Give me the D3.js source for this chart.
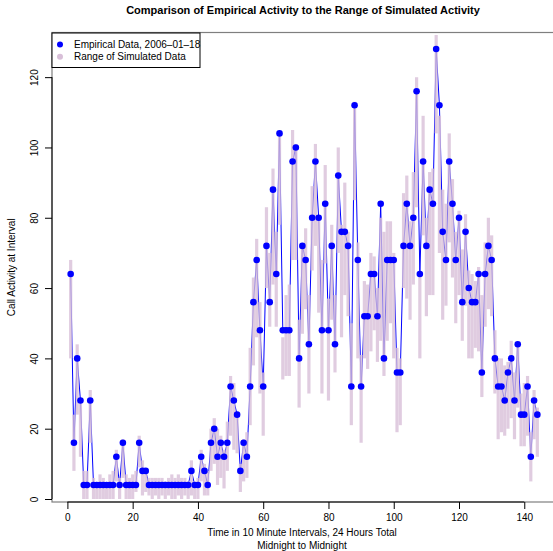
<!DOCTYPE html>
<html><head><meta charset="utf-8">
<script src="https://cdn.jsdelivr.net/npm/d3@7"></script>
<style>body{margin:0;background:#fff;} text{font-family:"Liberation Sans",Arial,sans-serif;}</style>
</head><body>
<svg id="c" width="553" height="551"></svg>
<script>
const empirical = [64,16,40,28,4,4,28,4,4,4, 4,4,4,4,12,4,16,4,4,4, 4,16,8,8,4,4,4,4,4,4,
 4,4,4,4,4,4,4,8,4,4, 12,8,4,16,20,12,16,12,16,32, 28,24,8,16,12,32,56,68,48,32,
 72,56,88,64,104,48,48,48,96,100, 40,72,68,44,80,96,80,48,84,48, 72,44,92,76,76,72,32,112,68,32,
 52,52,64,64,52,84,40,68,68,68, 36,36,72,84,72,80,116,64,96,72, 88,84,128,112,76,68,96,84,68,80,
 56,76,60,56,56,64,36,64,72,68, 40,32,32,28,36,40,28,44,24,24, 32,12,28,24];
const simMin = [40,8,24,12,0,0,16,0,0,0, 0,0,0,0,5,0,6,0,0,0, 2,9,1,2,1,0,1,0,1,0,
 1,0,0,1,0,1,0,1,0,0, 5,1,1,8,10,4,6,3,8,18, 14,13,2,5,6,21,38,46,30,18,
 60,49,61,49,78,34,35,35,68,68, 26,47,54,30,65,72,53,30,67,28, 51,36,70,46,58,52,21,85,40,16,
 40,37,42,48,39,45,35,45,50,40, 19,21,60,57,51,61,83,40,75,52, 58,58,104,70,51,55,73,63,50,58,
 45,55,40,40,43,42,29,49,54,52, 30,17,19,18,20,23,17,26,15,15, 18,5,17,12];
const simMax = [68,24,44,28,8,8,31,6,4,7, 6,4,7,8,14,6,17,7,6,7, 8,18,11,8,6,6,6,6,6,5,
 6,7,6,7,6,6,5,11,5,6, 14,10,8,20,23,20,18,14,22,35, 33,24,10,17,19,43,63,74,56,36,
 83,70,94,76,104,46,58,61,105,101, 51,72,77,58,89,101,80,68,95,57, 78,58,100,78,90,76,50,113,73,41,
 62,61,70,69,60,80,76,79,79,70, 43,40,87,92,79,93,120,64,109,80, 93,94,132,109,88,84,104,91,76,82,
 71,81,65,64,62,66,58,73,80,75, 48,40,40,38,39,45,36,44,30,33, 35,19,31,26];
const xTicks = [0,20,40,60,80,100,120,140];
const yTicks = [0,20,40,60,80,100,120];
const titleText = "Comparison of Empirical Activity to the Range of Simulated Activity";
const xTitle = ["Time in 10 Minute Intervals, 24 Hours Total","Midnight to Midnight"];
const yTitle = "Call Activity at Interval";
const legendLabels = ["Empirical Data, 2006\u201301\u201318","Range of Simulated Data"];
const colEmp = "#0000FF", colSim = "#D8BFD8";

const data = empirical.map((v,i)=>({t:i+1, v, lo:simMin[i], hi:simMax[i]}));
const svg = d3.select("#c");
const L=52, R=556, T=32.5, B=502;
const x = d3.scaleLinear().domain([-4.72,149.72]).range([L,R]);
const y = d3.scaleLinear().domain([-0.853,132.7]).range([B,T]);

// line
svg.append("path").datum(data)
  .attr("d", d3.line().x(d=>x(d.t)).y(d=>y(d.v)))
  .attr("fill","none").attr("stroke",colEmp).attr("stroke-width",1);
// ranges
svg.append("g").selectAll("line").data(data).join("line")
  .attr("x1",d=>x(d.t)).attr("x2",d=>x(d.t))
  .attr("y1",d=>y(d.lo)).attr("y2",d=>y(d.hi))
  .attr("stroke",colSim).attr("stroke-width",3.2).attr("stroke-opacity",0.8);
// points
svg.append("g").selectAll("circle").data(data).join("circle")
  .attr("cx",d=>x(d.t)).attr("cy",d=>y(d.v)).attr("r",3.3).attr("fill",colEmp);

// box
svg.append("rect").attr("x",L).attr("y",T).attr("width",R-L).attr("height",B-T)
  .attr("fill","none").attr("stroke","#7f7f7f").attr("stroke-width",1.2);

// axes
const xa = svg.append("g").attr("transform",`translate(0,${B})`)
  .call(d3.axisBottom(x).tickValues(xTicks).tickSize(7).tickPadding(5));
xa.select(".domain").remove();
xa.append("line").attr("x1",x(0)).attr("x2",x(140)).attr("stroke","#000");
xa.selectAll("text").attr("font-size",10).attr("fill","#000").attr("font-family","Liberation Sans, Arial, sans-serif");
const ya = svg.append("g").attr("transform",`translate(${L},0)`)
  .call(d3.axisLeft(y).tickValues(yTicks).tickSize(7));
ya.select(".domain").remove();
ya.append("line").attr("y1",y(0)).attr("y2",y(120)).attr("stroke","#000");
ya.selectAll(".tick text").attr("font-size",10).attr("fill","#000")
  .attr("font-family","Liberation Sans, Arial, sans-serif")
  .attr("x",null).attr("dy",null)
  .attr("text-anchor","middle")
  .attr("transform","translate(-14,0) rotate(-90)").attr("dy","0");

// titles
svg.append("text").attr("x",303).attr("y",14).attr("text-anchor","middle")
  .attr("font-weight","bold").attr("font-size",11).text(titleText);
xTitle.forEach((t,i)=>svg.append("text").attr("x",302).attr("y",536+i*13.3)
  .attr("text-anchor","middle").attr("font-size",10).text(t));
svg.append("text").attr("transform",`translate(15,${(T+B)/2}) rotate(-90)`)
  .attr("text-anchor","middle").attr("font-size",10).text(yTitle);

// legend
const lg = svg.append("g");
lg.append("rect").attr("x",L).attr("y",33).attr("width",148).attr("height",34.5)
  .attr("fill","#fff").attr("stroke","#000").attr("stroke-width",1);
[colEmp,colSim].forEach((c,i)=>{
  lg.append("circle").attr("cx",60).attr("cy",44.5+i*12.3).attr("r",3).attr("fill",c);
  lg.append("text").attr("x",74).attr("y",48+i*12.3).attr("font-size",10).text(legendLabels[i]);
});
</script>
</body></html>
